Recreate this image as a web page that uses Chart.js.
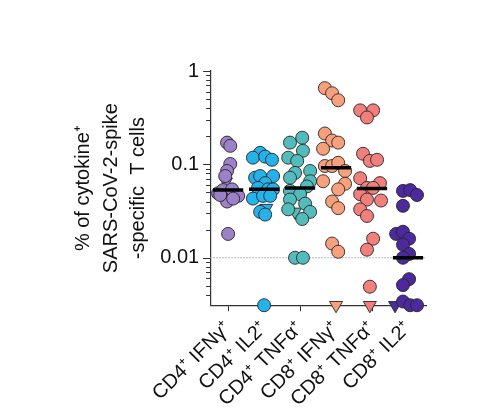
<!DOCTYPE html>
<html>
<head>
<meta charset="utf-8">
<script src="https://cdn.jsdelivr.net/npm/chart.js@4"></script>
<style>
  body { margin: 0; background: #fff; }
</style>
</head>
<body>
<canvas id="chart" width="500" height="417"></canvas>
<script>
// categories and medians
const categories = ["CD4\u207A IFN\u03B3\u207A", "CD4\u207A IL2\u207A", "CD4\u207A TNF\u03B1\u207A",
  "CD8\u207A IFN\u03B3\u207A", "CD8\u207A TNF\u03B1\u207A", "CD8\u207A IL2\u207A"];
const medians = [0.053, 0.054, 0.056, 0.092, 0.055, 0.010];
const detectionLine = 0.01;
const yTickLabels = [1, 0.1, 0.01];

// per-group values (circles), with their jitter in category units
const cd4Ifng = [0.171, 0.158, 0.101, 0.085, 0.075, 0.049, 0.053, 0.054, 0.046, 0.040, 0.047, 0.043, 0.018];
const cd4IfngJitter = [-0.03, 0.06, 0.06, -0.03, -0.08, -0.28, -0.14, 0.11, 0.28, -0.03, -0.22, 0.14, 0];
const cd4Il2 = [0.133, 0.118, 0.121, 0.112, 0.072, 0.075, 0.075, 0.063, 0.056, 0.054, 0.054, 0.043, 0.046, 0.046, 0.031, 0.029, 0.0031];
const cd4Il2Jitter = [-0.11, -0.31, 0.03, 0.22, -0.25, -0.11, 0.25, 0.03, -0.17, 0.11, 0.25, -0.31, -0.03, 0.17, -0.11, 0.03, 0];
const cd4Tnfa = [0.193, 0.171, 0.140, 0.118, 0.109, 0.085, 0.081, 0.072, 0.066, 0.058, 0.052, 0.048, 0.042, 0.038, 0.033, 0.031, 0.026, 0.010, 0.010];
const cd4TnfaJitter = [0.06, -0.28, 0.08, -0.33, -0.08, 0.28, -0.14, -0.28, 0.28, 0.19, -0.28, 0, -0.28, 0.14, -0.33, 0.28, 0.06, -0.14, 0.08];
const cd8Ifng = [0.655, 0.578, 0.486, 0.214, 0.180, 0.171, 0.147, 0.096, 0.096, 0.104, 0.085, 0.066, 0.062, 0.054, 0.040, 0.034, 0.0142, 0.0116];
const cd8IfngJitter = [-0.31, -0.11, 0.06, -0.31, -0.11, 0.06, -0.36, -0.31, -0.11, 0.06, 0.25, -0.36, 0.25, 0.06, -0.11, 0.06, -0.11, 0.06];
const cd8Tnfa = [0.379, 0.379, 0.318, 0.130, 0.109, 0.112, 0.071, 0.063, 0.056, 0.056, 0.048, 0.042, 0.041, 0.033, 0.028, 0.016, 0.0122, 0.0049];
const cd8TnfaJitter = [-0.33, 0.03, -0.14, -0.25, -0.06, 0.14, -0.33, 0.22, -0.14, 0.03, -0.33, -0.14, 0.25, -0.33, -0.14, 0.03, -0.14, -0.06];
const cd8Il2 = [0.052, 0.053, 0.047, 0.036, 0.018, 0.019, 0.016, 0.0138, 0.011, 0.010, 0.0059, 0.0051, 0.0034, 0.0031, 0.0031];
const cd8Il2Jitter = [-0.14, 0.06, 0.25, -0.14, -0.33, -0.14, 0.03, -0.14, 0.03, -0.14, 0.03, -0.14, -0.14, 0.06, 0.25];

// values drawn as down triangles
const cd4IfngTri = [0.065];
const cd4IfngTriJitter = [-0.06];
const cd4Il2Tri = [0.034];
const cd4Il2TriJitter = [0.06];
const cd4TnfaTri = [0.031];
const cd4TnfaTriJitter = [-0.14];
const cd8IfngTri = [0.0031];
const cd8IfngTriJitter = [0];
const cd8TnfaTri = [0.0031];
const cd8TnfaTriJitter = [-0.06];
const cd8Il2Tri = [0.0031];
const cd8Il2TriJitter = [-0.36];

const groups = [
  [cd4Ifng, cd4IfngJitter, cd4IfngTri, cd4IfngTriJitter],
  [cd4Il2, cd4Il2Jitter, cd4Il2Tri, cd4Il2TriJitter],
  [cd4Tnfa, cd4TnfaJitter, cd4TnfaTri, cd4TnfaTriJitter],
  [cd8Ifng, cd8IfngJitter, cd8IfngTri, cd8IfngTriJitter],
  [cd8Tnfa, cd8TnfaJitter, cd8TnfaTri, cd8TnfaTriJitter],
  [cd8Il2, cd8Il2Jitter, cd8Il2Tri, cd8Il2TriJitter]
];
const colors = ["#9b82c8", "#23b2ea", "#52bcbc", "#f6a07c", "#f17f7c", "#4a2a9c"];
const FONT = "'Liberation Sans', Arial, sans-serif";

const toPoints = (vals, jit, i) => vals.map((v, k) => ({ x: i + 1 + jit[k], y: v }));

const datasets = [];
// median bars on top
medians.forEach((m, i) => {
  datasets.push({
    type: "line",
    data: [{ x: i + 1 - 0.42, y: m }, { x: i + 1 + 0.42, y: m }],
    borderColor: "#000",
    borderWidth: 3.5,
    pointRadius: 0,
    order: 0
  });
});
groups.forEach((g, i) => {
  datasets.push({
    data: toPoints(g[0], g[1], i),
    backgroundColor: colors[i],
    borderColor: "rgba(45,35,40,0.9)",
    borderWidth: 1,
    pointRadius: 6.5,
    pointHoverRadius: 6.5,
    clip: false,
    order: 1
  });
  datasets.push({
    data: toPoints(g[2], g[3], i),
    backgroundColor: colors[i],
    borderColor: "rgba(45,35,40,0.9)",
    borderWidth: 1,
    pointStyle: "triangle",
    rotation: 180,
    pointRadius: 7.5,
    clip: false,
    order: 1
  });
});
// dotted line at 0.01
datasets.push({
  type: "line",
  data: [{ x: 0.5, y: detectionLine }, { x: 6.5, y: detectionLine }],
  borderColor: "#b8b8b8",
  borderWidth: 1,
  borderDash: [2, 1],
  pointRadius: 0,
  order: 2
});

// y tick marks: long for decades, short for the rest
const yTickMarks = {
  id: "yTickMarks",
  afterDraw(chart) {
    const y = chart.scales.y, ctx = chart.ctx;
    ctx.save();
    ctx.strokeStyle = "#333";
    ctx.lineWidth = 1;
    y.ticks.forEach(t => {
      const lg = Math.log10(t.value);
      const major = Math.abs(lg - Math.round(lg)) < 1e-6;
      const py = Math.round(y.getPixelForValue(t.value)) + 0.5;
      ctx.beginPath();
      ctx.moveTo(y.right, py);
      ctx.lineTo(y.right - (major ? 7 : 4), py);
      ctx.stroke();
    });
    ctx.restore();
  }
};

new Chart(document.getElementById("chart"), {
  type: "scatter",
  data: { datasets },
  plugins: [yTickMarks],
  options: {
    responsive: false,
    animation: false,
    layout: { padding: { left: 63, right: 74, top: 71, bottom: 1 } },
    plugins: { legend: { display: false }, tooltip: { enabled: false } },
    scales: {
      x: {
        type: "linear",
        min: 0.5,
        max: 6.5,
        afterBuildTicks: s => { s.ticks = categories.map((c, i) => ({ value: i + 1 })); },
        grid: { display: true, drawOnChartArea: false, tickLength: 6, color: "#333" },
        border: { display: true, color: "#333", width: 1.2 },
        ticks: {
          minRotation: 45,
          maxRotation: 45,
          padding: 5,
          color: "#111",
          font: { family: FONT, size: 20 },
          callback: v => categories[v - 1]
        }
      },
      y: {
        type: "logarithmic",
        min: 0.0031,
        max: 1,
        afterBuildTicks: s => {
          const t = [];
          for (let e = -3; e <= -1; e++) {
            for (let k = 1; k <= 9; k++) {
              const v = k * Math.pow(10, e);
              if (v >= 0.0031) t.push({ value: +v.toPrecision(3) });
            }
          }
          t.push({ value: 1 });
          s.ticks = t;
        },
        grid: { display: true, drawOnChartArea: false, tickLength: 7, tickColor: "transparent", color: "transparent" },
        border: { display: true, color: "#333", width: 1.2 },
        ticks: {
          padding: 4,
          color: "#111",
          autoSkip: false,
          font: { family: FONT, size: 20 },
          callback: v => (yTickLabels.includes(v) ? String(v) : "")
        },
        title: {
          display: true,
          text: ["% of cytokine\u207A", "SARS-CoV-2-spike", "-specific  T cells"],
          color: "#111",
          font: { family: FONT, size: 20, lineHeight: 1.37 },
          padding: { top: 7, bottom: 4 }
        }
      }
    }
  }
});
</script>
</body>
</html>
